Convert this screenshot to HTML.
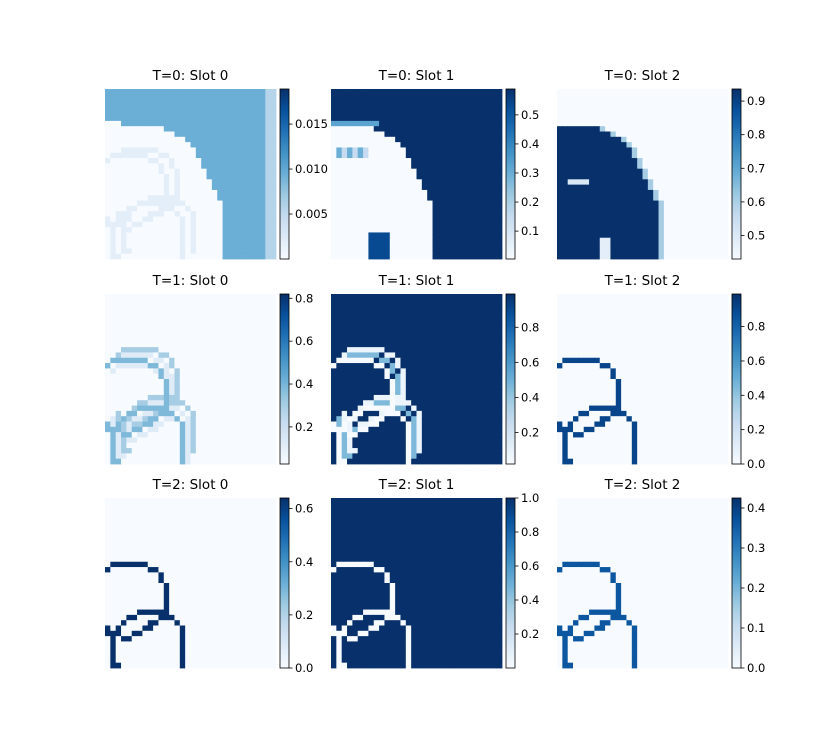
<!DOCTYPE html>
<html><head><meta charset="utf-8">
<style>
html,body{margin:0;padding:0;background:#fff;}
svg text{font-family:"DejaVu Sans","Liberation Sans",sans-serif;}
</style></head>
<body>
<svg id="fig" width="825" height="750" viewBox="0 0 825 750" xmlns="http://www.w3.org/2000/svg">
<defs>
<linearGradient id="blues" x1="0" y1="1" x2="0" y2="0">
<stop offset="0" stop-color="#f7fbff"/><stop offset="0.125" stop-color="#deebf7"/>
<stop offset="0.25" stop-color="#c6dbef"/><stop offset="0.375" stop-color="#9ecae1"/>
<stop offset="0.5" stop-color="#6baed6"/><stop offset="0.625" stop-color="#4292c6"/>
<stop offset="0.75" stop-color="#2171b5"/><stop offset="0.875" stop-color="#08519c"/>
<stop offset="1" stop-color="#08306b"/>
</linearGradient>
</defs>
</svg>
<script>
// ---- data ----
const titles = ["T=0: Slot 0","T=0: Slot 1","T=0: Slot 2","T=1: Slot 0","T=1: Slot 1","T=1: Slot 2","T=2: Slot 0","T=2: Slot 1","T=2: Slot 2"];
// white-region width per row (T=0 slot 1 boundary)
const boundary = [0,0,0,0,0,0,0,8,10,12,13,14,14,15,15,16,16,17,17,18,18,19,19,19,19,19,19,19,19,19,19,19];
// outline cells [row, col]
const outline = [
 [12,1],[12,2],[12,3],[12,4],[12,5],[12,6],[12,7],
 [13,0],[13,8],[13,9],[14,10],[15,10],[16,11],[17,11],[18,11],[19,11],[20,11],
 [21,6],[21,7],[21,8],[21,9],[21,10],[21,11],
 [22,4],[22,5],[22,10],[22,11],[22,12],
 [23,3],[23,8],[23,9],[23,13],
 [24,0],[24,2],[24,7],[24,8],[24,14],
 [25,0],[25,1],[25,2],[25,5],[25,6],[25,14],
 [26,1],[26,3],[26,4],[26,14],
 [27,1],[27,14],[28,1],[28,14],[29,1],[29,14],[30,1],[30,14],[31,1],[31,2],[31,14]
];
const cbMin = [0,0.004,0.43,0.027,0.02,0,0,0,0];
const cbMax = [0.0189,0.589,0.936,0.82,0.99,0.99,0.64,1.0,0.425];
const cbTicks = [
 [0.005,0.010,0.015],[0.1,0.2,0.3,0.4,0.5],[0.5,0.6,0.7,0.8,0.9],
 [0.2,0.4,0.6,0.8],[0.2,0.4,0.6,0.8],[0.0,0.2,0.4,0.6,0.8],
 [0.0,0.2,0.4,0.6],[0.2,0.4,0.6,0.8,1.0],[0.0,0.1,0.2,0.3,0.4]
];
const tickDigits = [3,1,1,1,1,1,1,1,1];

// ---- layout ----
const colX=[105,331,557], rowY=[89,294,498], PW=171, PH=170, N=32;
const stops=[[247,251,255],[222,235,247],[198,219,239],[158,202,225],[107,174,214],[66,146,198],[33,113,181],[8,81,156],[8,48,107]];
function blues(v){v=Math.max(0,Math.min(1,v));const t=v*8,i=Math.min(7,Math.floor(t)),f=t-i;
 const a=stops[i],b=stops[i+1];return `rgb(${a.map((x,k)=>Math.round(x+(b[k]-x)*f)).join(',')})`;}
const onOutline=new Set(outline.map(p=>p[0]*N+p[1]));
function isO(r,c,dr=0,dc=0){return onOutline.has((r-dr)*N+(c-dc));}
function val(p,r,c){
 const b=boundary[r];
 switch(p){
  case 0:{ if(c>=30) return 0.3; if(r>=6 && c<b+3) return isO(r,c)||isO(r,c,-1,2)?0.1:0.0; return 0.5;}
  case 1:{ if(r===6 && c<9) return 0.55; if(c>=b) return 1;
           if(r>=11&&r<=12&&c>=1&&c<=6) return (c%2?0.5:0.25);
           if(r>=27&&c>=7&&c<=10) return 0.9; return 0;}
  case 2:{ if(r<7) return 0; if(c<b){ if(r===17&&c>=2&&c<=5) return 0.15; if(r>=28&&c>=8&&c<=9) return 0.1; return 1;}
           if(c===b) return 0.35; return 0;}
  case 3:{ if(isO(r,c)) return 0.45; if(isO(r,c,-2,2)) return 0.35; if(isO(r,c,1,1)||isO(r,c,-1,1)) return 0.12; return 0;}
  case 4:{ if(isO(r,c)) return 0; if(isO(r,c,-2,2)) return 0.05; if(isO(r,c,-1,1)) return 0.45; return 1;}
  case 5: return isO(r,c)?0.92:0;
  case 6: return isO(r,c)?1:0;
  case 7: return isO(r,c)?0:1;
  case 8: return isO(r,c)?0.85:0;
 }
}
const svg=document.getElementById('fig');const NS='http://www.w3.org/2000/svg';
function mk(tag,attrs,parent){const e=document.createElementNS(NS,tag);for(const k in attrs)e.setAttribute(k,attrs[k]);(parent||svg).appendChild(e);return e;}

for(let p=0;p<9;p++){
 const x0=colX[p%3], y0=rowY[Math.floor(p/3)];
 const g=mk('g',{});
 
 
 const cw=PW/N, ch=PH/N;
 for(let r=0;r<N;r++)for(let c=0;c<N;c++){
  mk('rect',{x:(x0+c*cw).toFixed(2),y:(y0+r*ch).toFixed(2),width:(cw+0.4).toFixed(2),height:(ch+0.4).toFixed(2),fill:blues(val(p,r,c))},g);
 }
 const t=mk('text',{x:x0+PW/2,y:y0-9,'text-anchor':'middle','font-size':'13.5',fill:'#000'});
 
 
 t.textContent=titles[p];
 const cx=x0+PW+4, cwid=9;
 const cb=mk('g',{});
 
 
 mk('rect',{x:cx,y:y0,width:cwid,height:PH,fill:'url(#blues)',stroke:'#000','stroke-width':0.8},cb);
 const lo=cbMin[p],hi=cbMax[p];
 cbTicks[p].forEach(v=>{
  const y=y0+PH-(v-lo)/(hi-lo)*PH;
  mk('line',{x1:cx+cwid,x2:cx+cwid+3.5,y1:y,y2:y,stroke:'#000','stroke-width':0.8},cb);
  const tl=mk('text',{x:cx+cwid+6,y:y+4,'font-size':'11.5',fill:'#000'},cb);
  
  
  tl.textContent=v.toFixed(tickDigits[p]);
 });
}
</script>
</body></html>
